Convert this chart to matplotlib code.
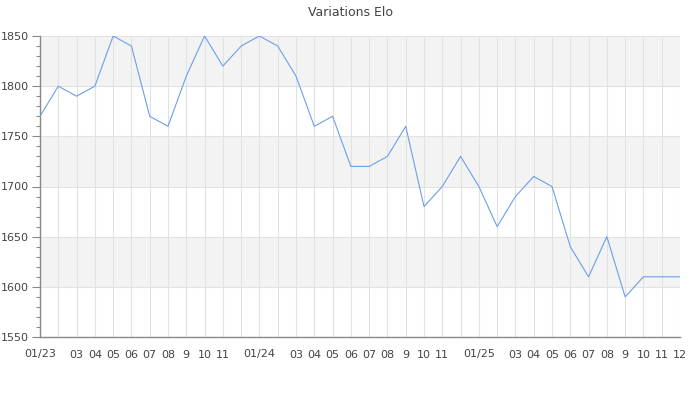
import matplotlib
matplotlib.use('Agg')
import matplotlib.pyplot as plt
import numpy as np

# valeurs Elo mensuelles, janv. 2023 -> dec. 2025
elo = [1770, 1800, 1790, 1800, 1850, 1840, 1770, 1760, 1810, 1850, 1820, 1840,
       1850, 1840, 1810, 1760, 1770, 1720, 1720, 1730, 1760, 1680, 1700, 1730,
       1700, 1660, 1690, 1710, 1700, 1640, 1610, 1650, 1590, 1610, 1610, 1610]
month_labels = ['01/23', '', '03', '04', '05', '06', '07', '08', '9', '10', '11', '',
                '01/24', '', '03', '04', '05', '06', '07', '08', '9', '10', '11', '',
                '01/25', '', '03', '04', '05', '06', '07', '08', '9', '10', '11', '12']
y_ticks = [1550, 1600, 1650, 1700, 1750, 1800, 1850]
bands = [(1600, 1650), (1700, 1750), (1800, 1850)]

x = np.arange(len(elo))
txt = '#444444'

fig = plt.figure(figsize=(7, 4), dpi=100)
ax = fig.add_axes([40 / 700, 1 - 337 / 400, 640 / 700, 301 / 400])

for lo, hi in bands:
    ax.axhspan(lo, hi, color='#f3f3f3', zorder=0, lw=0)

ax.plot(x, elo, color='#6d9eeb', lw=0.8, zorder=3)

ax.set_xlim(0, len(elo) - 1)
ax.set_ylim(1550, 1850)
ax.set_xticks(x)
ax.set_xticklabels(month_labels)
ax.set_yticks(y_ticks)
ax.set_yticks(np.arange(1550, 1851, 10), minor=True)

ax.grid(True, color='#e2e2e2', lw=0.8, zorder=1)
ax.set_axisbelow(True)

for s in ['top', 'right']:
    ax.spines[s].set_visible(False)
for s in ['left', 'bottom']:
    ax.spines[s].set_color('#888888')
    ax.spines[s].set_linewidth(1)

ax.tick_params(axis='x', length=0, pad=9, labelsize=8, colors=txt)
ax.tick_params(axis='y', which='major', length=6, width=0.8, color='#888888', labelsize=8, labelcolor=txt, pad=2)
ax.tick_params(axis='y', which='minor', length=3, width=0.8, color='#888888')

fig.text(0.5, 1 - 12 / 400, 'Variations Elo', ha='center', va='center', fontsize=9, color=txt)

fig.savefig('out.png', dpi=100)
